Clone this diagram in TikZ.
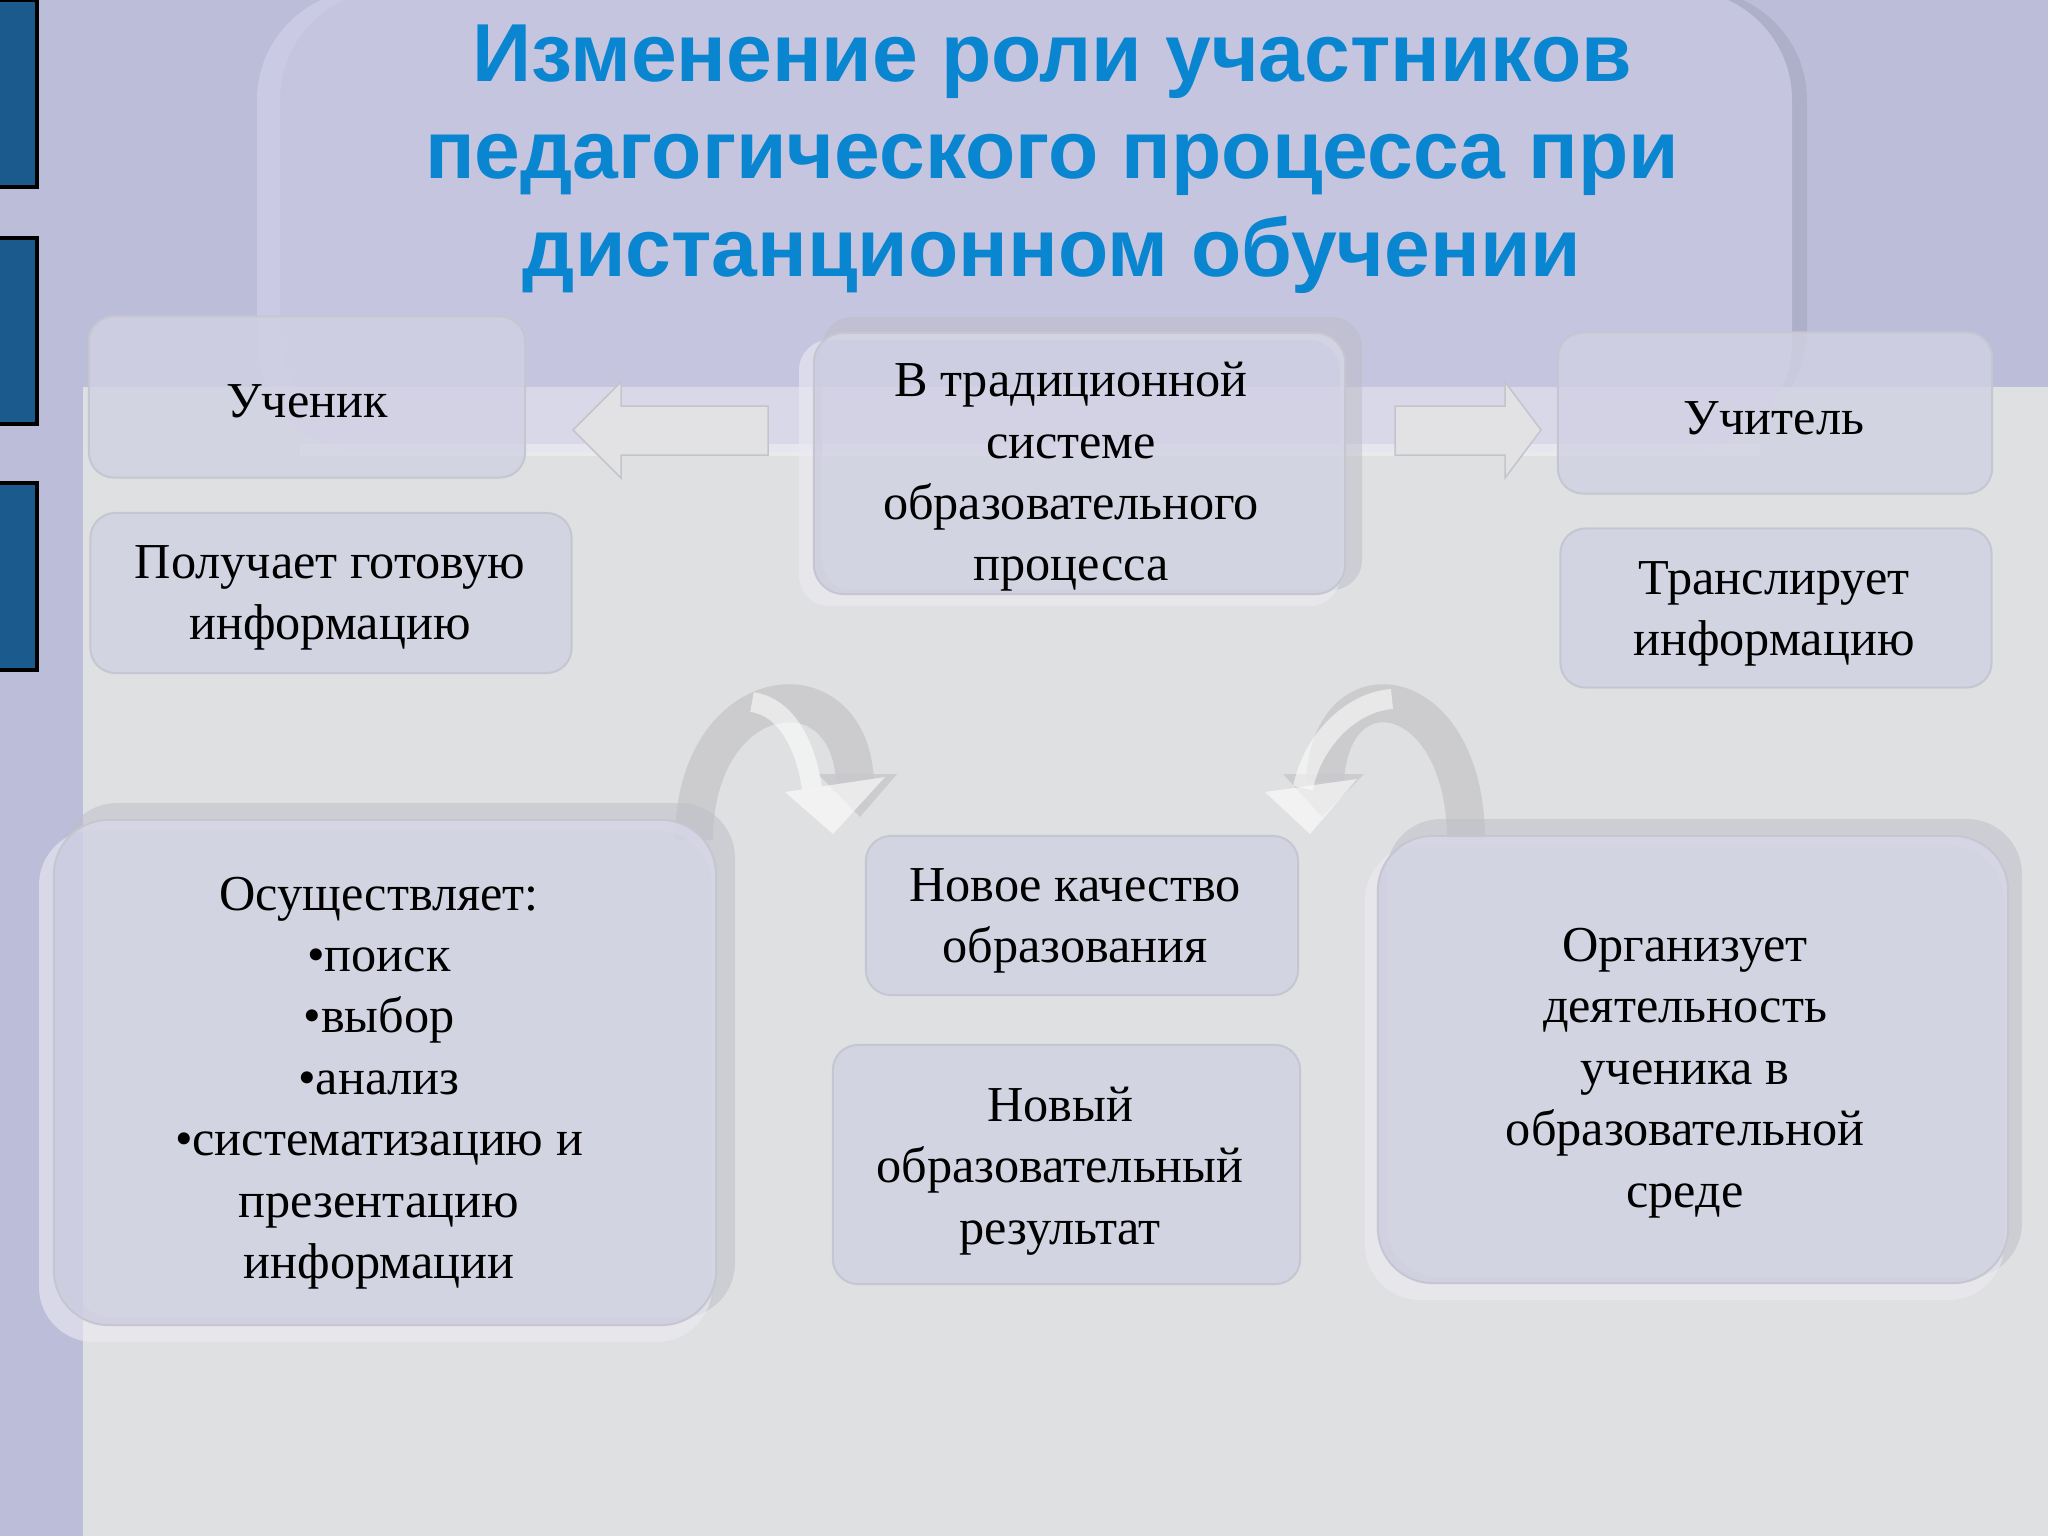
\documentclass[tikz,border=0pt]{standalone}
\usepackage{fontspec}
\setmainfont{Liberation Serif}
\newfontfamily\ttlfamily{Liberation Sans}
\definecolor{bglav}{HTML}{BCBDD9}
\definecolor{graybg}{HTML}{DFE0E1}
\definecolor{titlefill}{HTML}{D6D4EE}
\definecolor{titleshade}{HTML}{AEB0C9}
\definecolor{titleblue}{HTML}{0A85D0}
\definecolor{barblue}{HTML}{1A5A8C}
\definecolor{boxfill}{HTML}{D1D1E3}
\definecolor{boxedge}{HTML}{C6C6D2}
\definecolor{frdark}{HTML}{BDBDC8}
\definecolor{frlight}{HTML}{EBEBF3}
\definecolor{arrfill}{HTML}{E2E2E5}
\definecolor{arredge}{HTML}{C4C4CA}
\definecolor{archgray}{HTML}{C9C9CD}
\newcommand\bfnt{\fontsize{14.3}{17.45}\selectfont}
\newcommand\ttlfnt{\ttlfamily\bfseries\fontsize{23.4}{27.8}\selectfont}
\tikzset{
  rbox/.style={draw=boxedge, line width=0.02cm, fill=boxfill, fill opacity=0.8, text opacity=1,
    rounded corners=0.25cm, align=center, font=\bfnt, inner sep=0pt},
  boxtext/.style={font=\bfnt, align=center, inner sep=0pt},
  bar/.style={fill=barblue, draw=black, line width=0.035cm},
  blockarrow/.style={fill=arrfill, draw=arredge, line width=0.015cm},
  archshadow/.style={draw=archgray, line width=0.38cm, opacity=0.85},
  archribbon/.style={draw=white, line width=0.2cm, opacity=0.55},
  archhead/.style={fill=white, opacity=0.6},
  archheadgray/.style={fill=archgray, opacity=0.85},
  ringdark/.style={fill=frdark, opacity=0.5, even odd rule},
  ringlight/.style={fill=frlight, opacity=0.6, even odd rule},
}
\begin{document}
\begin{tikzpicture}[x=0.01cm,y=-0.01cm]
\useasboundingbox (0,0) rectangle (2048,1536);
% background
\fill[bglav] (0,0) rectangle (2048,1536);
% title box shadow strip
\fill[titleshade, rounded corners=1.1cm] (280,-10) rectangle (1807,440);
% gray content area
\fill[graybg] (83,387) rectangle (2048,1536);
% title box
\fill[titlefill, opacity=0.6, rounded corners=1.1cm] (257,-10) rectangle (1792,452);
\draw[white, opacity=0.35, line width=0.12cm] (300,450) -- (1760,450);
% left bars
\fill[bar] (-5,0) rectangle (37,187);
\fill[bar] (-5,238) rectangle (37,424);
\fill[bar] (-5,483) rectangle (37,670);
% title
\node[font=\ttlfnt, text=titleblue, align=center] (title) at (1052,159)
  {Изменение роли участников\\педагогического процесса при\\дистанционном обучении};

% top row
\node[rbox, minimum width=4.36cm, minimum height=1.61cm] (uchenik) at (307,397) {};
\node[boxtext] (uchtext) at (307,401) {Ученик};
\node[rbox, minimum width=4.81cm, minimum height=1.60cm] (poluchaet) at (331,593) {};
\node[boxtext] (poltext) at (330,598) {Получает готовую\\информацию};
\node[rbox, minimum width=4.34cm, minimum height=1.61cm] (uchitel) at (1775,413) {};
\node[boxtext] (uchiteltext) at (1774,418) {Учитель};
\node[rbox, minimum width=4.31cm, minimum height=1.59cm] (translir) at (1776,608) {};
\node[boxtext] (trantext) at (1774,614) {Транслирует\\информацию};

% traditional box frame
\fill[ringdark, rounded corners=0.3cm] (822,317) rectangle (1362,590) (814,333) rectangle (1345,594);
\fill[ringlight, rounded corners=0.3cm] (799,340) rectangle (1340,606) (814,333) rectangle (1345,594);
\node[rbox, minimum width=5.31cm, minimum height=2.61cm, rounded corners=0.3cm] (trad) at (1079.5,463.5) {};
\node[boxtext] (tradtext) at (1071,477) {В традиционной\\системе\\образовательного\\процесса};

% block arrows
\draw[blockarrow] (573,430) -- (621,382) -- (621,406) -- (768,406) -- (768,455) -- (621,455) -- (621,478) -- cycle;
\draw[blockarrow] (1541,430) -- (1505,382) -- (1505,406) -- (1395,406) -- (1395,455) -- (1505,455) -- (1505,478) -- cycle;

% curved arrows (left)
\draw[archshadow] (694,840) .. controls (694,680) and (850,660) .. (855,782);
\fill[archheadgray] (818,774) -- (897,774) -- (860,817) -- cycle;
\draw[archribbon] (752,702) .. controls (785,707) and (805,742) .. (812,788);
\fill[archhead] (785,792) -- (885,777) -- (833,834) -- cycle;
% curved arrows (right)
\draw[archshadow] (1466,840) .. controls (1466,680) and (1330,660) .. (1325,782);
\fill[archheadgray] (1283,774) -- (1364,774) -- (1322,817) -- cycle;
\draw[archribbon] (1392,699) .. controls (1350,702) and (1312,742) .. (1303,788);
\fill[archhead] (1265,792) -- (1357,779) -- (1310,834) -- cycle;

% big left box
\fill[ringdark, rounded corners=0.55cm] (62,803) rectangle (735,1318) (54,820) rectangle (716,1325);
\fill[ringlight, rounded corners=0.55cm] (39,830) rectangle (712,1342) (54,820) rectangle (716,1325);
\node[rbox, minimum width=6.62cm, minimum height=5.05cm, rounded corners=0.55cm] (osush) at (385,1072.5) {};
\node[boxtext] (osushtext) at (379,1083)
  {Осуществляет:\\•поиск\\•выбор\\•анализ\\•систематизацию и\\презентацию\\информации};

% middle boxes
\node[rbox, minimum width=4.32cm, minimum height=1.59cm] (kachestvo) at (1082,915.5) {};
\node[boxtext] (kachtext) at (1075,921) {Новое качество\\образования};
\node[rbox, minimum width=4.67cm, minimum height=2.39cm] (rezultat) at (1066.5,1164.5) {};
\node[boxtext] (reztext) at (1060,1171) {Новый\\образовательный\\результат};

% big right box
\fill[ringdark, rounded corners=0.55cm] (1386,819) rectangle (2022,1278) (1378,836) rectangle (2008,1283);
\fill[ringlight, rounded corners=0.55cm] (1365,845) rectangle (2004,1300) (1378,836) rectangle (2008,1283);
\node[rbox, minimum width=6.30cm, minimum height=4.47cm, rounded corners=0.55cm] (organiz) at (1693,1059.5) {};
\node[boxtext] (orgtext) at (1685,1073)
  {Организует\\деятельность\\ученика в\\образовательной\\среде};
\end{tikzpicture}
\end{document}
